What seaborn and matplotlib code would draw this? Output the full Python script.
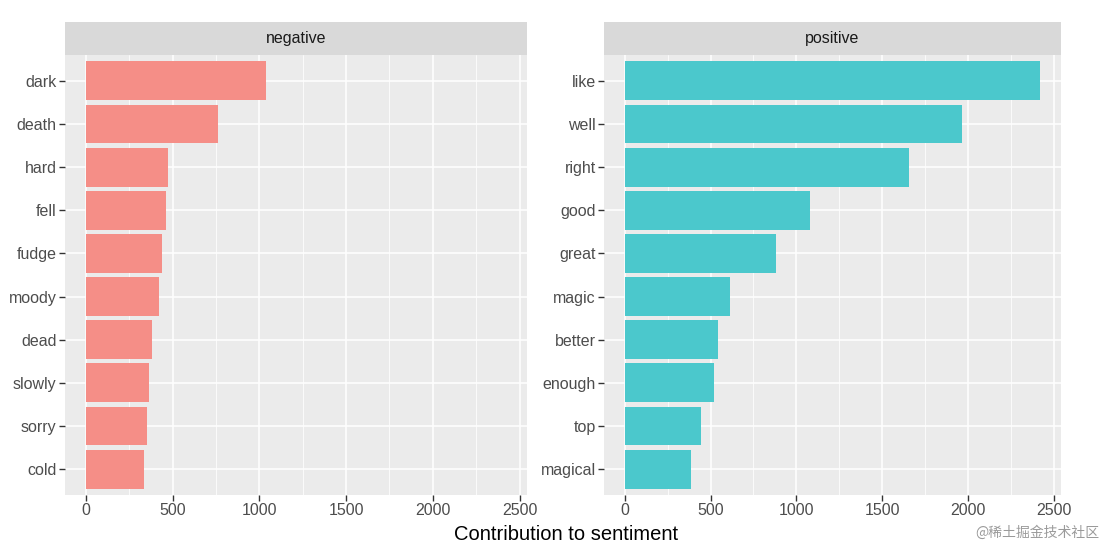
import matplotlib
matplotlib.use("Agg")
import matplotlib.pyplot as plt
import seaborn as sns
import pandas as pd
import numpy as np

neg_words = ["dark", "death", "hard", "fell", "fudge", "moody", "dead", "slowly", "sorry", "cold"]
neg_values = [1038, 760, 472, 462, 437, 422, 382, 366, 349, 333]
pos_words = ["like", "well", "right", "good", "great", "magic", "better", "enough", "top", "magical"]
pos_values = [2422, 1966, 1658, 1078, 883, 614, 541, 518, 442, 385]
facets = ["negative", "positive"]
colors = ["#F58E87", "#4BC8CC"]
x_ticks = [0, 500, 1000, 1500, 2000, 2500]

sns.set_theme(style="darkgrid")
plt.rcParams['font.family'] = ['Liberation Sans', 'DejaVu Sans']

fig = plt.figure(figsize=(11.04, 5.49), dpi=100)
W, H = 1104, 549
panels = [(65, 527), (604, 1061)]
top_px, bot_px, strip_top = 55, 495, 22

datasets = [(neg_words, neg_values), (pos_words, pos_values)]
for i, ((words, vals), (x0, x1)) in enumerate(zip(datasets, panels)):
    ax = fig.add_axes([x0 / W, 1 - bot_px / H, (x1 - x0) / W, (bot_px - top_px) / H])
    df = pd.DataFrame({"word": words, "n": vals})
    sns.barplot(data=df, x="n", y="word", order=words, color=colors[i],
                width=0.9, saturation=1, ax=ax, orient="h", linewidth=0)
    ax.set_facecolor("#EBEBEB")
    ax.set_xlim(-121, 2543)
    ax.set_ylim(len(words) - 1 + 0.6, -0.6)
    ax.set_xticks(x_ticks)
    ax.set_xticklabels([str(t) for t in x_ticks])
    ax.set_xticks([250, 750, 1250, 1750, 2250], minor=True)
    ax.grid(True, which="major", color="white", linewidth=1.1)
    ax.grid(True, which="minor", axis="x", color="white", linewidth=0.55)
    ax.set_axisbelow(True)
    for s in ax.spines.values():
        s.set_visible(False)
    ax.tick_params(axis="both", which="major", length=4, width=1, color="#333333",
                   labelcolor="#4D4D4D", labelsize=11.5, pad=2, bottom=True, left=True)
    ax.tick_params(axis="x", which="minor", length=0)
    ax.set_xlabel("")
    ax.set_ylabel("")
    # strip
    sax = fig.add_axes([x0 / W, 1 - top_px / H, (x1 - x0) / W, (top_px - strip_top) / H])
    sax.set_facecolor("#D9D9D9")
    sax.set_xticks([]); sax.set_yticks([])
    for s in sax.spines.values():
        s.set_visible(False)
    sax.text(0.5, 0.5, facets[i], ha="center", va="center", fontsize=11.5, color="#1A1A1A",
             transform=sax.transAxes)

fig.text(566 / W, 1 - 534 / H, "Contribution to sentiment", ha="center", va="center",
         fontsize=14.5, color="black")
fig.text(1099 / W, 1 - 533 / H, "@稀土掘金技术社区", ha="right", va="center",
         fontsize=10, color="#9A9A9A", family=["Noto Sans CJK SC", "DejaVu Sans"])

fig.savefig("out.png", dpi=100, facecolor="white")
